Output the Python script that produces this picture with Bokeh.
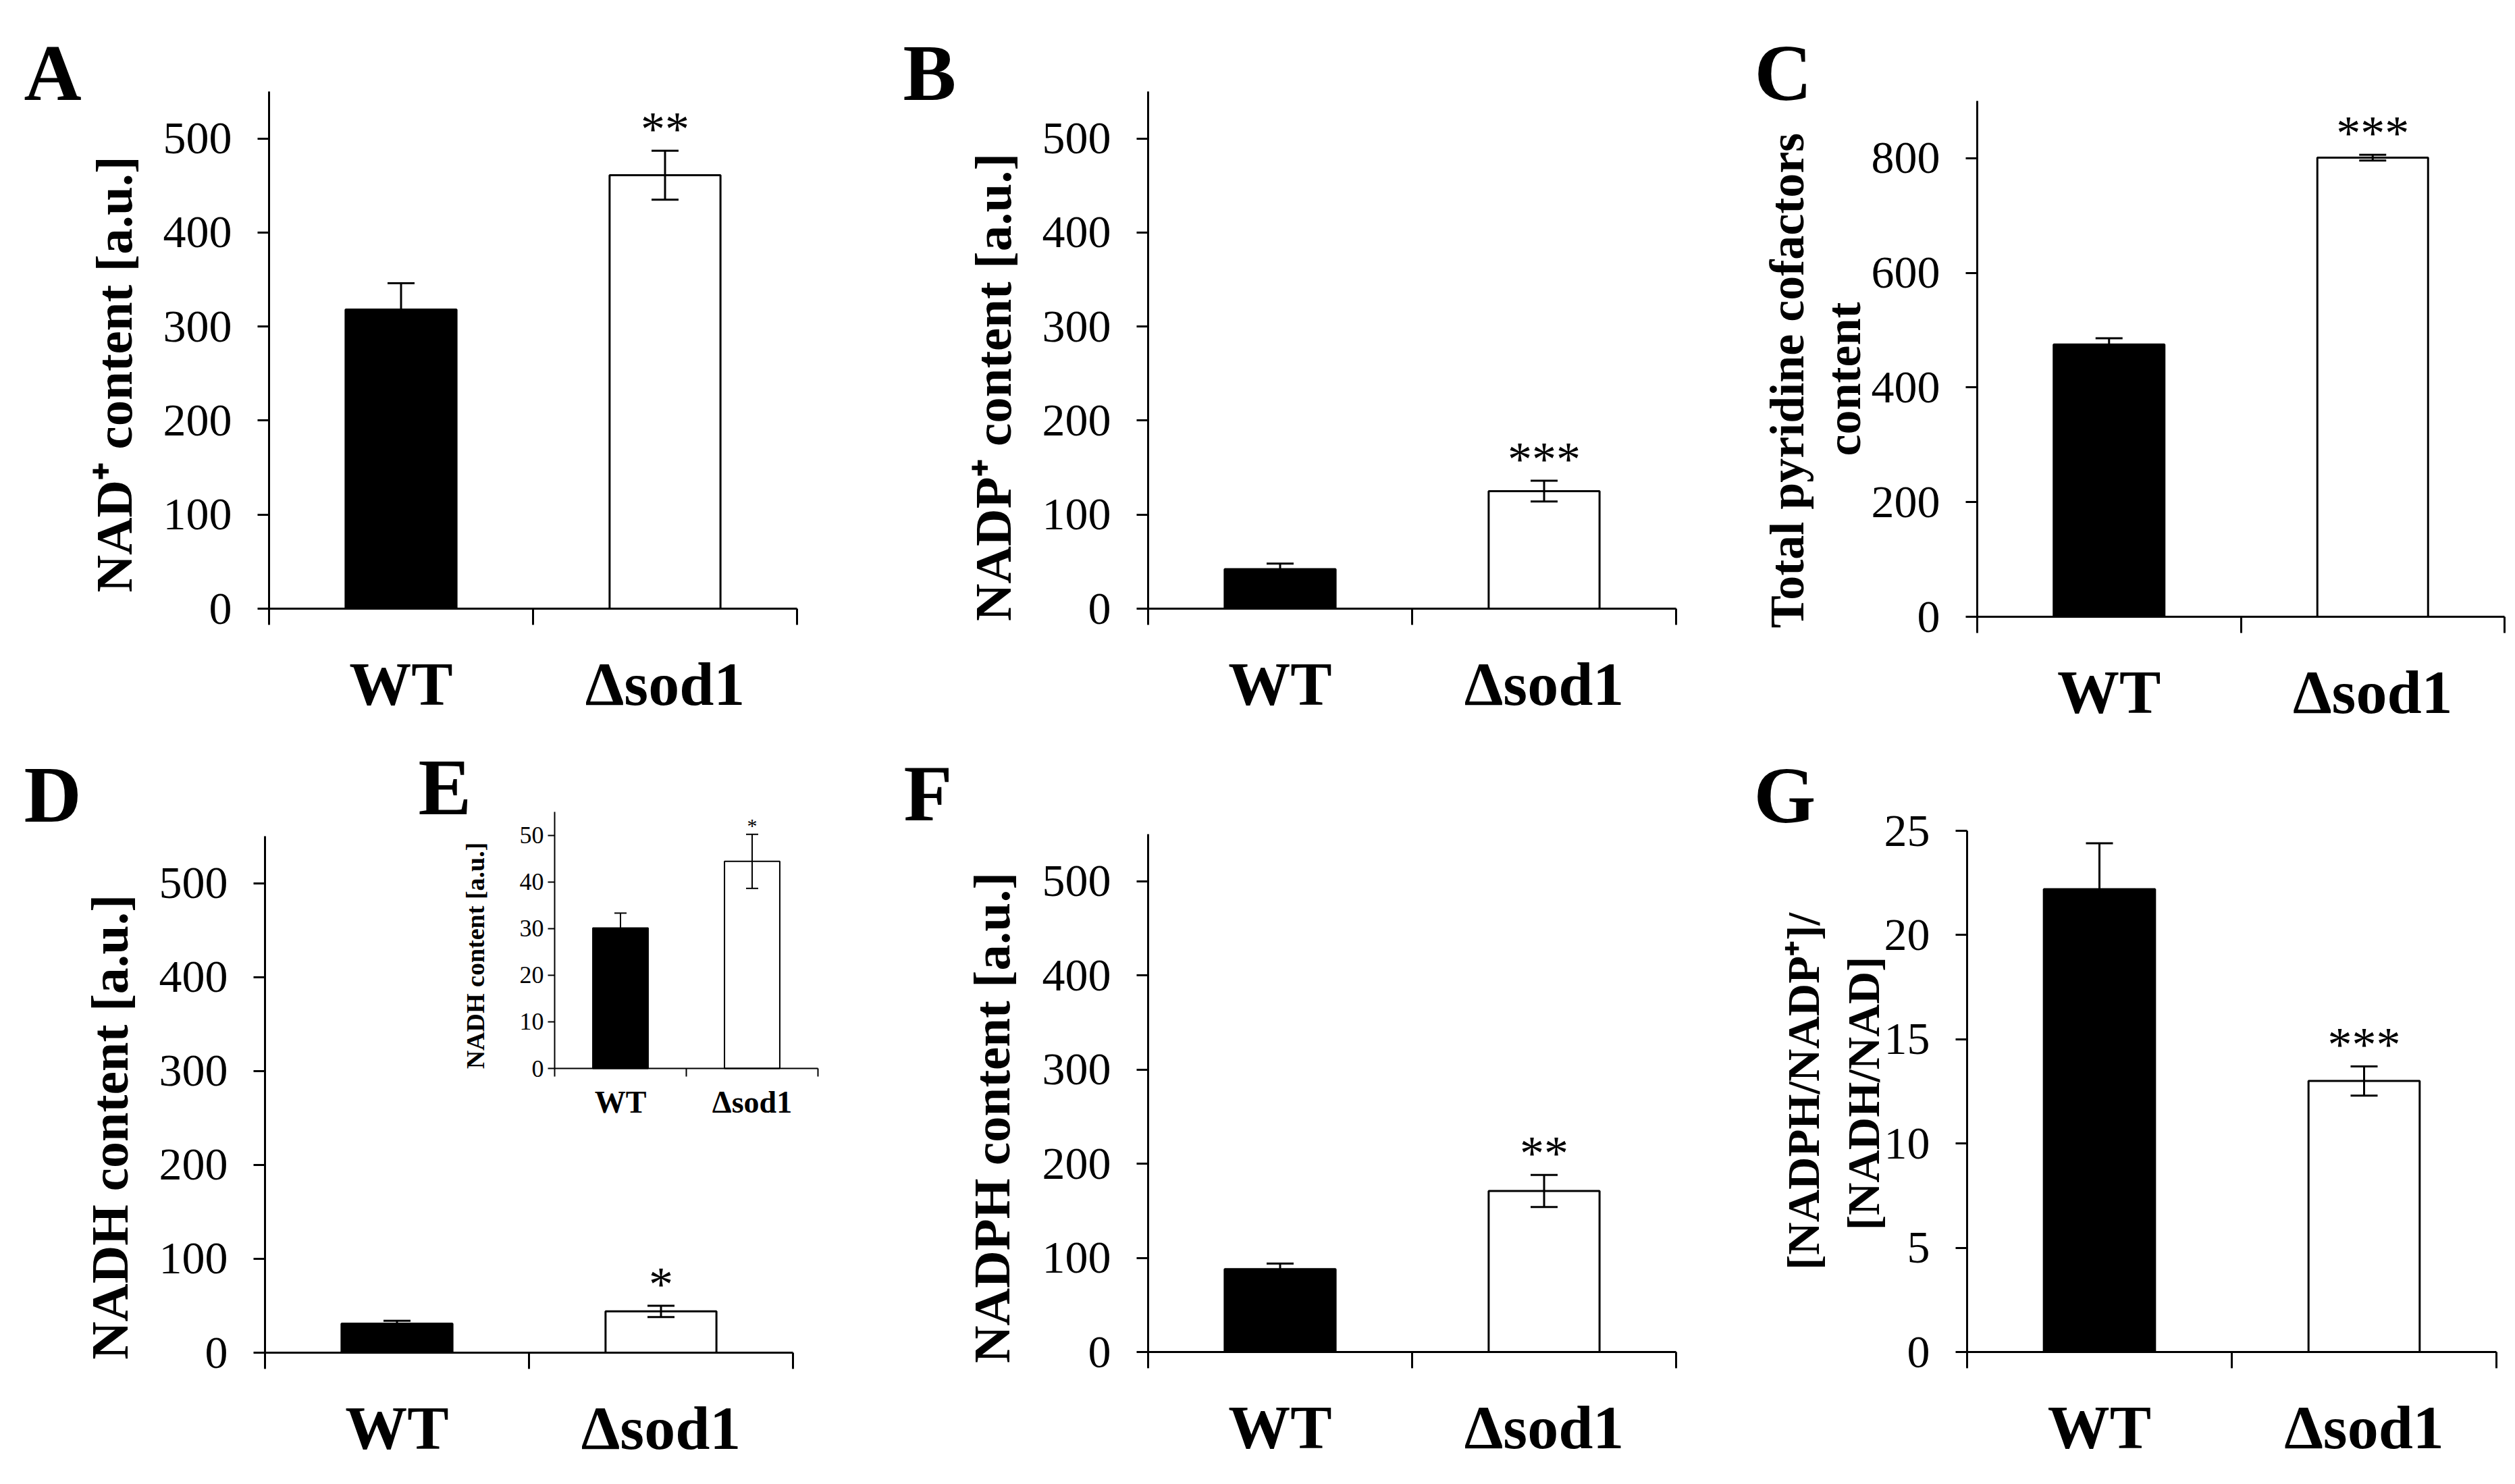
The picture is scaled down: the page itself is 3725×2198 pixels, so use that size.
import math
from bokeh.plotting import figure
from bokeh.layouts import row, column
from bokeh.models import (Range1d, FixedTicker, LinearAxis, Whisker, TeeHead,
                          ColumnDataSource, LabelSet, Label)
from bokeh.core.properties import value
from bokeh.embed import file_html
from bokeh.resources import INLINE

SERIF = "Liberation Serif"

groups = ["WT", "Δsod1"]
fills = ["black", "white"]

nad_mean = [318, 461]
nad_err = [28, 26]
nad_sig = ["", "**"]

nadp_mean = [42, 125]
nadp_err = [6, 11]
nadp_sig = ["", "***"]

total_mean = [475, 801]
total_err = [11, 5]
total_sig = ["", "***"]

nadh_mean = [31, 44]
nadh_err = [3, 6]
nadh_sig = ["", "*"]

nadh_inset_mean = [30.1, 44.4]
nadh_inset_err = [3.2, 5.8]
nadh_inset_sig = ["", "*"]

nadph_mean = [88, 171]
nadph_err = [6, 17]
nadph_sig = ["", "**"]

ratio_mean = [22.2, 13.0]
ratio_err = [2.2, 0.7]
ratio_sig = ["", "***"]

ticks_500 = [0, 100, 200, 300, 400, 500]
ticks_800 = [0, 200, 400, 600, 800]
ticks_25 = [0, 5, 10, 15, 20, 25]
ticks_50 = [0, 10, 20, 30, 40, 50]


def bar_source(mean, err, sig):
    xs = [i + 0.5 for i in range(len(groups))]
    return ColumnDataSource(dict(
        x=xs, top=mean,
        upper=[m + e for m, e in zip(mean, err)],
        lower=[m - e for m, e in zip(mean, err)],
        sig=sig, fill=fills))


def draw_bars(p, src, lw, cap, star, star_up, rx="default", ry="default"):
    p.vbar(x="x", top="top", width=0.42, fill_color="fill", line_color="black",
           line_width=lw, source=src, x_range_name=rx, y_range_name=ry)
    w = Whisker(source=src, base="x", upper="upper", lower="lower",
                line_color="black", line_width=lw, level="overlay",
                upper_head=TeeHead(size=cap, line_width=lw, line_color="black"),
                lower_head=TeeHead(size=cap, line_width=lw, line_color="black"),
                x_range_name=rx, y_range_name=ry)
    p.add_layout(w)
    p.add_layout(LabelSet(x="x", y="upper", text="sig", source=src, y_offset=star_up,
                          text_align="center", text_baseline="alphabetic",
                          text_color="black",
                          text_font=value(SERIF), text_font_size=value(f"{star}px"),
                          x_range_name=rx, y_range_name=ry))


def y_axis(ticks, top, size, lw, tick_out, standoff, rx="default", ry="default"):
    ax = LinearAxis(fixed_location=0, bounds=(0, top),
                    x_range_name=rx, y_range_name=ry)
    ax.ticker = FixedTicker(ticks=ticks)
    ax.axis_line_width = lw
    ax.major_tick_line_width = lw
    ax.major_tick_out = tick_out
    ax.major_tick_in = 0
    ax.minor_tick_line_color = None
    ax.major_label_text_color = "black"
    ax.major_label_text_font = SERIF
    ax.major_label_text_font_size = f"{size}px"
    ax.major_label_standoff = standoff
    return ax


def x_axis(size, lw, tick_out, standoff, rx="default", ry="default"):
    n = len(groups)
    ax = LinearAxis(fixed_location=0, bounds=(0, n),
                    x_range_name=rx, y_range_name=ry)
    ax.ticker = FixedTicker(ticks=[i + 0.5 for i in range(n)],
                            minor_ticks=list(range(n + 1)))
    ax.major_label_overrides = {i + 0.5: g for i, g in enumerate(groups)}
    ax.axis_line_width = lw
    ax.major_tick_line_color = None
    ax.major_tick_out = 0
    ax.major_tick_in = 0
    ax.minor_tick_line_width = lw
    ax.minor_tick_out = tick_out
    ax.minor_tick_in = 0
    ax.major_label_text_color = "black"
    ax.major_label_text_font = SERIF
    ax.major_label_text_font_style = "bold"
    ax.major_label_text_font_size = f"{size}px"
    ax.major_label_standoff = standoff
    return ax


def text_label(p, x, y, text, size, angle=0.0, align="left"):
    p.add_layout(Label(x=x, y=y, x_units="screen", y_units="screen", text=text,
                       angle=angle, text_color="black", text_font=SERIF,
                       text_font_style="bold", text_font_size=f"{size}px",
                       text_align=align, text_baseline="alphabetic"))


def panel(letter, letter_pos, ylabels, mean, err, sig, ymax, yticks, border, frame):
    # the whole figure is the frame; the plot box sits inside it at `border`
    left, right, top, bottom = border
    fw, fh = frame
    W = left + fw + right
    H = top + fh + bottom
    ux = fw / len(groups)
    uy = fh / ymax
    p = figure(frame_width=W, frame_height=H, min_border=0,
               x_range=Range1d(-left / ux, (W - left) / ux),
               y_range=Range1d(-bottom / uy, (H - bottom) / uy),
               x_axis_type=None, y_axis_type=None,
               output_backend="svg", toolbar_location=None, tools="")
    p.outline_line_color = None
    p.xgrid.visible = False
    p.ygrid.visible = False
    p.add_layout(y_axis(yticks, ymax, 68, 3, 17, 38), "left")
    p.add_layout(x_axis(92, 3, 24, 36), "below")
    draw_bars(p, bar_source(mean, err, sig), 3, 40, 72, 8)
    text_label(p, left + letter_pos[0], bottom + letter_pos[1], letter, 118)
    for text, bx, cy, size in ylabels:
        text_label(p, left + bx, bottom + cy, text, size, angle=math.pi / 2, align="center")
    return p


pA = panel("A", (-363, 793), [("NAD⁺ content [a.u.]", -230, 347, 77)],
           nad_mean, nad_err, nad_sig, 550, ticks_500, (398, 128, 135, 187), (782, 766))
pB = panel("B", (-363, 793), [("NADP⁺ content [a.u.]", -230, 328, 77)],
           nadp_mean, nadp_err, nadp_sig, 550, ticks_500, (392, 66, 135, 187), (782, 766))
pC = panel("C", (-330, 805), [("Total pyridine cofactors", -282, 350, 72),
                              ("content", -198, 352, 72)],
           total_mean, total_err, total_sig, 900, ticks_800, (380, 8, 149, 175), (781, 764))
pD = panel("D", (-357, 826), [("NADH content  [a.u.]", -230, 344, 78)],
           nadh_mean, nadh_err, nadh_sig, 550, ticks_500, (392, 134, 150, 187), (782, 765))
pF = panel("F", (-362, 827), [("NADPH content [a.u.]", -232, 347, 77)],
           nadph_mean, nadph_err, nadph_sig, 550, ticks_500, (392, 66, 147, 188), (782, 767))
pG = panel("G", (-316, 824), [("[NADPH/NADP⁺]/", -243, 386, 67),
                              ("[NADH/NAD]", -154, 383, 67)],
           ratio_mean, ratio_err, ratio_sig, 25, ticks_25, (365, 20, 142, 188), (784, 772))

# inset E drawn inside figure D on its own ranges
inset_left, inset_bottom, inset_w, inset_h = 821, 608, 390, 380
inset_ymax = 55
ux = inset_w / len(groups)
uy = inset_h / inset_ymax
D_W, D_H = 392 + 782 + 134, 150 + 765 + 187
pD.extra_x_ranges = {"ix": Range1d(-inset_left / ux, (D_W - inset_left) / ux)}
pD.extra_y_ranges = {"iy": Range1d(-inset_bottom / uy, (D_H - inset_bottom) / uy)}
pD.add_layout(y_axis(ticks_50, inset_ymax, 36, 2, 10, 6, "ix", "iy"), "left")
pD.add_layout(x_axis(46, 2, 12, 12, "ix", "iy"), "below")
draw_bars(pD, bar_source(nadh_inset_mean, nadh_inset_err, nadh_inset_sig),
          2, 18, 30, 3, rx="ix", ry="iy")
text_label(pD, 619, 1024, "E", 118)
text_label(pD, 703, 775, "NADH content [a.u.]", 38, angle=math.pi / 2, align="center")

layout = column(row(pA, pB, pC), row(pD, pF, pG))
open("out.html", "w").write(file_html(layout, INLINE))
